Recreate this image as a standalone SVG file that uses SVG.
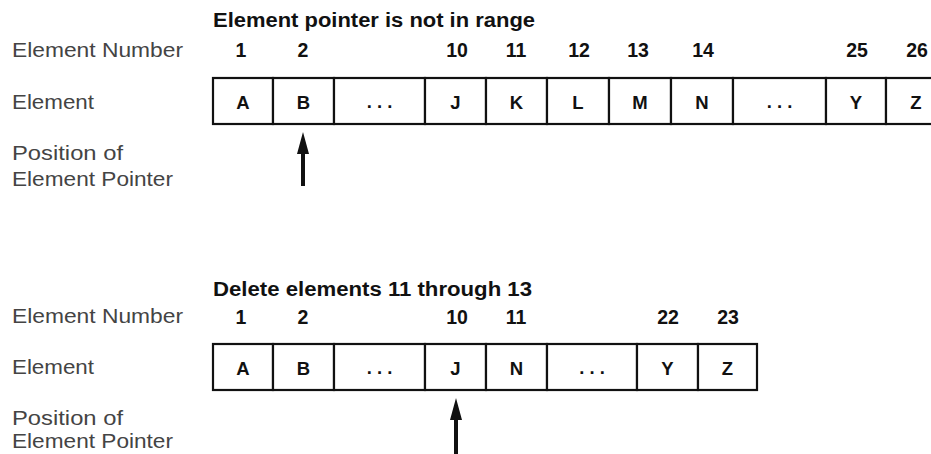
<svg xmlns="http://www.w3.org/2000/svg" width="931" height="454" viewBox="0 0 931 454">
<defs>
<style>
.bg{fill:#ffffff}
.lbl{font-family:"Liberation Sans",Arial,sans-serif;font-size:21px;fill:#444444;font-weight:normal}
.title{font-family:"Liberation Sans",Arial,sans-serif;font-size:20px;font-weight:bold;fill:#111}
.num{font-family:"Liberation Sans",Arial,sans-serif;font-size:19.5px;font-weight:bold;fill:#111;text-anchor:middle}
.cell rect{fill:#ffffff;stroke:#111;stroke-width:2.2}
.cell text{font-family:"Liberation Sans",Arial,sans-serif;font-size:18.5px;font-weight:bold;fill:#111;text-anchor:middle}
.ptr{stroke:#111;stroke-width:4;fill:none;marker-end:url(#head)}
</style>
<marker id="head" viewBox="0 0 22 12" markerWidth="22" markerHeight="12" refX="4" refY="6" orient="auto" markerUnits="userSpaceOnUse">
<path d="M0,0 L22,6 L0,12 z" fill="#111"/>
</marker>
</defs>
<rect class="bg" x="0" y="0" width="931" height="454"/>

<!-- Top section -->
<g id="top-labels">
<text class="lbl" x="12" y="57" textLength="171" lengthAdjust="spacingAndGlyphs">Element Number</text>
<text class="lbl" x="12" y="109" textLength="82" lengthAdjust="spacingAndGlyphs">Element</text>
<text class="lbl" x="12" y="160" textLength="111" lengthAdjust="spacingAndGlyphs">Position of</text>
<text class="lbl" x="12" y="186" textLength="161" lengthAdjust="spacingAndGlyphs">Element Pointer</text>
</g>
<g id="top-title">
<text class="title" x="213" y="27" textLength="322" lengthAdjust="spacingAndGlyphs">Element pointer is not in range</text>
</g>
<g id="top-numbers">
<text class="num" x="241" y="57">1</text>
<text class="num" x="303" y="57">2</text>
<text class="num" x="457" y="57">10</text>
<text class="num" x="516" y="57">11</text>
<text class="num" x="579" y="57">12</text>
<text class="num" x="638" y="57">13</text>
<text class="num" x="703" y="57">14</text>
<text class="num" x="857" y="57">25</text>
<text class="num" x="917" y="57">26</text>
</g>
<g id="top-A" class="cell"><rect x="213" y="78" width="60" height="46"/><text x="243" y="109">A</text></g>
<g id="top-B" class="cell"><rect x="273" y="78" width="61" height="46"/><text x="303.5" y="109">B</text></g>
<g id="top-dots1" class="cell"><rect x="334" y="78" width="91" height="46"/><text x="379.5" y="108">. . .</text></g>
<g id="top-J" class="cell"><rect x="425" y="78" width="61" height="46"/><text x="455.5" y="109">J</text></g>
<g id="top-K" class="cell"><rect x="486" y="78" width="61" height="46"/><text x="516.5" y="109">K</text></g>
<g id="top-L" class="cell"><rect x="547" y="78" width="62" height="46"/><text x="578" y="109">L</text></g>
<g id="top-M" class="cell"><rect x="609" y="78" width="62" height="46"/><text x="640" y="109">M</text></g>
<g id="top-N" class="cell"><rect x="671" y="78" width="62" height="46"/><text x="702" y="109">N</text></g>
<g id="top-dots2" class="cell"><rect x="733" y="78" width="93" height="46"/><text x="779.5" y="108">. . .</text></g>
<g id="top-Y" class="cell"><rect x="826" y="78" width="60" height="46"/><text x="856" y="109">Y</text></g>
<g id="top-Z" class="cell"><rect x="886" y="78" width="60" height="46"/><text x="916" y="109">Z</text></g>

<!-- Bottom section -->
<g id="bottom-labels">
<text class="lbl" x="12" y="323" textLength="171" lengthAdjust="spacingAndGlyphs">Element Number</text>
<text class="lbl" x="12" y="374" textLength="82" lengthAdjust="spacingAndGlyphs">Element</text>
<text class="lbl" x="12" y="425" textLength="111" lengthAdjust="spacingAndGlyphs">Position of</text>
<text class="lbl" x="12" y="448" textLength="161" lengthAdjust="spacingAndGlyphs">Element Pointer</text>
</g>
<g id="bottom-title">
<text class="title" x="213" y="296" textLength="319" lengthAdjust="spacingAndGlyphs">Delete elements 11 through 13</text>
</g>
<g id="bottom-numbers">
<text class="num" x="241" y="324">1</text>
<text class="num" x="303" y="324">2</text>
<text class="num" x="457" y="324">10</text>
<text class="num" x="516" y="324">11</text>
<text class="num" x="668" y="324">22</text>
<text class="num" x="728" y="324">23</text>
</g>
<g id="bot-A" class="cell"><rect x="213" y="344" width="60" height="46"/><text x="243" y="375">A</text></g>
<g id="bot-B" class="cell"><rect x="273" y="344" width="61" height="46"/><text x="303.5" y="375">B</text></g>
<g id="bot-dots1" class="cell"><rect x="334" y="344" width="91" height="46"/><text x="379.5" y="374">. . .</text></g>
<g id="bot-J" class="cell"><rect x="425" y="344" width="61" height="46"/><text x="455.5" y="375">J</text></g>
<g id="bot-N" class="cell"><rect x="486" y="344" width="61" height="46"/><text x="516.5" y="375">N</text></g>
<g id="bot-dots2" class="cell"><rect x="547" y="344" width="90" height="46"/><text x="592" y="374">. . .</text></g>
<g id="bot-Y" class="cell"><rect x="637" y="344" width="61" height="46"/><text x="667.5" y="375">Y</text></g>
<g id="bot-Z" class="cell"><rect x="698" y="344" width="59" height="46"/><text x="727.5" y="375">Z</text></g>

<g id="connectors">
<line class="ptr" x1="303" y1="186" x2="303" y2="150"/>
<line class="ptr" x1="456" y1="454" x2="456" y2="416"/>
</g>
</svg>
